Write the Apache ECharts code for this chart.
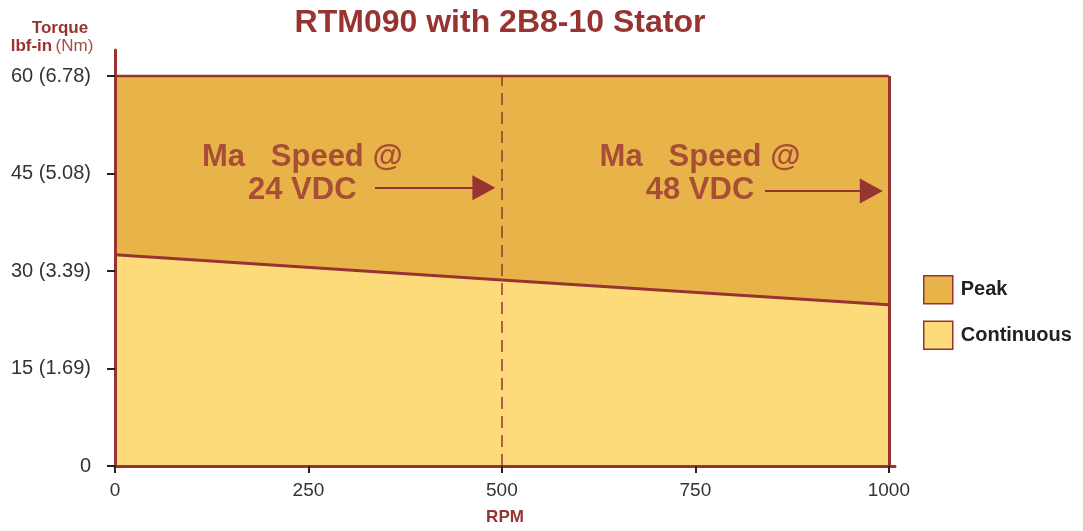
<!DOCTYPE html>
<html>
<head>
<meta charset="utf-8">
<script src="https://cdn.jsdelivr.net/npm/echarts@6/dist/echarts.min.js"></script>
<style>
html,body{margin:0;padding:0;background:#fff;}
#chart{width:1083px;height:531px;}
</style>
</head>
<body>
<div id="chart"></div>
<script>
// ---- data ----
var chartTitle = 'RTM090 with 2B8-10 Stator';
var seriesNames = ['Peak', 'Continuous'];
var peakRpm = [0, 1000];
var peakTorque = [60, 60];
var contRpm = [0, 500, 1000];
var contTorque = [32.5, 28.6, 24.8];
var xTickValues = [0, 250, 500, 750, 1000];
var yTickValues = [0, 15, 30, 45, 60];
var yTickLabels = ['0', '15 (1.69)', '30 (3.39)', '45 (5.08)', '60 (6.78)'];
var speedMarkers = [500, 1000];          // RPM of vertical lines (24 VDC dashed, 48 VDC)
var annoText = ['Ma   Speed @\n24 VDC', 'Ma   Speed @\n48 VDC'];
var annoX = [242, 756];
var annoY = [45.0, 45.0];
var arrowStartX = [336, 840];
var arrowEndX = [476.7, 977.4];
var arrowY = [42.8, 42.3];

// ---- styles ----
var RED = '#973431';
var PEAK = '#E8B44A';
var CONT = '#FDDA7A';
var FONT = '"Liberation Sans", Arial, Helvetica, sans-serif';

function pairs(xs, ys) { return xs.map(function (x, i) { return [x, ys[i]]; }); }

var chart = echarts.init(document.getElementById('chart'), null, {renderer: 'canvas'});

var annoMarkLines = [];
arrowStartX.forEach(function (x, i) {
  annoMarkLines.push([
    {coord: [x, arrowY[i]], symbol: 'none'},
    {coord: [arrowEndX[i], arrowY[i]], symbol: 'triangle', symbolSize: [25, 23]}
  ]);
});

var option = {
  animation: false,
  backgroundColor: '#fff',
  textStyle: {fontFamily: FONT},
  grid: {left: 115, right: 188, top: 50, bottom: 65, containLabel: false},
  graphic: [
    {type: 'text', x: 500, y: 23, style: {text: chartTitle, fill: RED, font: 'bold 32px ' + FONT, textAlign: 'center', textVerticalAlign: 'middle'}},
    {type: 'text', x: 60, y: 28, style: {text: 'Torque', fill: RED, font: 'bold 17px ' + FONT, textAlign: 'center', textVerticalAlign: 'middle'}},
    {type: 'text', x: 52, y: 46, style: {text: '{b|lbf-in} {n|(Nm)}', textAlign: 'center', textVerticalAlign: 'middle',
      rich: {b: {fill: RED, font: 'bold 17px ' + FONT}, n: {fill: '#A0504C', font: '17px ' + FONT}}}}
  ],
  legend: {
    orient: 'vertical', left: 923, top: 275, padding: 0, itemWidth: 29, itemHeight: 28, itemGap: 16,
    textStyle: {fontSize: 20, fontWeight: 'bold', color: '#222', fontFamily: FONT, padding: [0, 0, 0, 3]},
    data: [
      {name: seriesNames[0], icon: 'rect', itemStyle: {color: PEAK, borderColor: RED, borderWidth: 1.5}},
      {name: seriesNames[1], icon: 'rect', itemStyle: {color: CONT, borderColor: RED, borderWidth: 1.5}}
    ]
  },
  xAxis: {
    type: 'value', min: 0, max: 1008, z: 10,
    name: 'RPM', nameLocation: 'middle', nameGap: 43,
    nameTextStyle: {color: RED, fontSize: 17, fontWeight: 'bold', fontFamily: FONT},
    axisLine: {show: true, lineStyle: {color: RED, width: 3}},
    axisTick: {show: true, length: 7, customValues: xTickValues, lineStyle: {color: '#222', width: 2}},
    axisLabel: {customValues: xTickValues, margin: 15, color: '#333', fontSize: 19, fontFamily: FONT,
      formatter: function (v) { return String(v); }},
    splitLine: {show: false}
  },
  yAxis: {
    type: 'value', min: 0, max: 64, z: 10,
    axisLine: {show: true, lineStyle: {color: RED, width: 3}},
    axisTick: {show: true, length: 8, customValues: yTickValues, lineStyle: {color: '#222', width: 2}},
    axisLabel: {customValues: yTickValues, margin: 24, color: '#333', fontSize: 20, fontFamily: FONT,
      formatter: function (v) { var i = yTickValues.indexOf(v); return i >= 0 ? yTickLabels[i] : ''; }},
    splitLine: {show: false}
  },
  series: [
    {
      name: seriesNames[0], type: 'line', data: pairs(peakRpm, peakTorque),
      symbol: 'none', itemStyle: {color: PEAK},
      lineStyle: {color: RED, width: 2.5},
      areaStyle: {color: PEAK, opacity: 1, origin: 'start'},
      z: 1
    },
    {
      name: seriesNames[1], type: 'line', data: pairs(contRpm, contTorque),
      symbol: 'none', itemStyle: {color: CONT},
      lineStyle: {color: RED, width: 3},
      areaStyle: {color: CONT, opacity: 1, origin: 'start'},
      z: 2,
      markLine: {
        silent: true, symbol: 'none', animation: false,
        label: {show: false},
        data: [
          [{coord: [speedMarkers[0], 0], lineStyle: {type: [12, 7], width: 1.5, color: RED}},
           {coord: [speedMarkers[0], peakTorque[0]]}],
          [{coord: [speedMarkers[1], 0], lineStyle: {type: 'solid', width: 3, color: RED}},
           {coord: [speedMarkers[1], peakTorque[1]]}]
        ].concat(annoMarkLines.map(function (p) {
          p[0].lineStyle = {type: 'solid', width: 2, color: RED};
          return p;
        }))
      }
    },
    {
      name: 'annotations', type: 'scatter', symbolSize: 0, z: 5, silent: true,
      data: pairs(annoX, annoY).map(function (p, i) { return {value: p, label: {formatter: annoText[i]}}; }),
      label: {show: true, position: 'inside', color: RED, fontSize: 31, fontWeight: 'bold', fontFamily: FONT,
        lineHeight: 33, align: 'center', verticalAlign: 'middle'}
    }
  ]
};
chart.setOption(option);
</script>
</body>
</html>
